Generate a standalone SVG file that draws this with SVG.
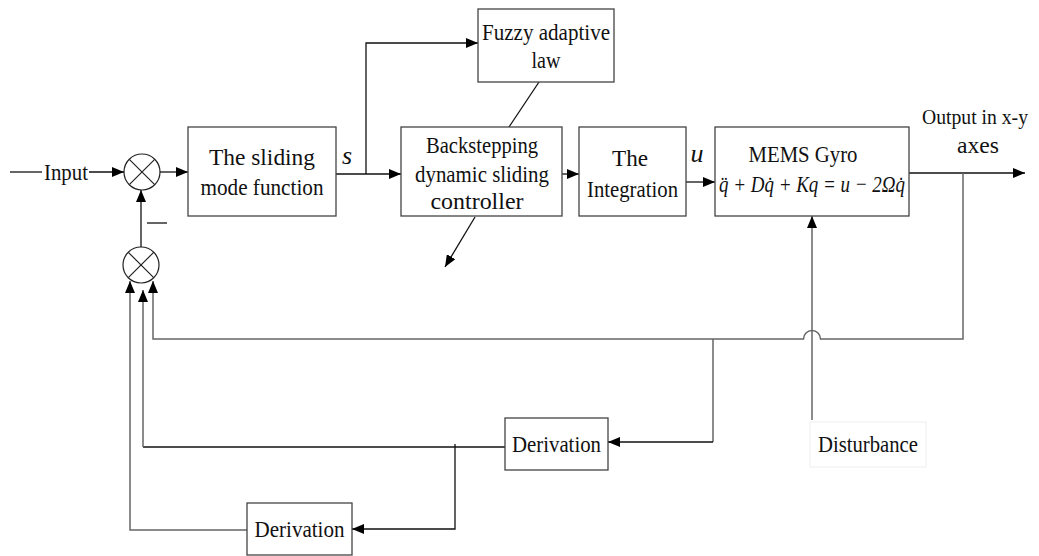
<svg xmlns="http://www.w3.org/2000/svg" width="1039" height="556" viewBox="0 0 1039 556">
<style>
.box{fill:#fff;stroke:#444;stroke-width:1.3}
.sum{fill:#fff;stroke:#222;stroke-width:1.2}
.t{font-family:"Liberation Serif","Times New Roman",serif;font-size:24px;fill:#111;text-anchor:middle}
.it{font-style:italic}
.c{fill:none;stroke:#111;stroke-width:1.3}
.g{fill:none;stroke:#666;stroke-width:1.5}
</style>
<defs>
<marker id="arr" markerWidth="12" markerHeight="10" refX="12" refY="5" orient="auto" markerUnits="userSpaceOnUse">
<path d="M0,0 L12,5 L0,10 z" fill="#000"/>
</marker>
</defs>
<rect width="1039" height="556" fill="#fff"/>

<g id="connectors">
<path class="c" d="M10,172 H42"/>
<path class="c" d="M89,172 H124" marker-end="url(#arr)"/>
<path class="c" d="M160,172 H188" marker-end="url(#arr)"/>
<path class="c" d="M141,247 V190" marker-end="url(#arr)"/>
<path class="c" d="M147,223 H167"/>
<path class="c" d="M336,174 H401" marker-end="url(#arr)"/>
<path class="c" d="M366,174 V43 H478" marker-end="url(#arr)"/>
<path class="c" d="M539,82 L509,127"/>
<path class="c" d="M475,217 L445,267" marker-end="url(#arr)"/>
<path class="c" d="M562,174 H579" marker-end="url(#arr)"/>
<path class="c" d="M686,182 H715" marker-end="url(#arr)"/>
<path class="c" d="M909,173 H1025" marker-end="url(#arr)"/>
<path class="g" d="M963,173 V339 H820.5 A8.5,8.5 0 0 0 803.5,339 H153 V281" marker-end="url(#arr)"/>
<path class="g" d="M812,420 V216" marker-end="url(#arr)"/>
<path class="g" d="M713,339 V442"/>
<path class="c" d="M713,442 H608" marker-end="url(#arr)"/>
<path class="c" d="M505,447 H143"/>
<path class="g" d="M143,447 V290" marker-end="url(#arr)"/>
<path class="c" d="M455,444 V529 H352" marker-end="url(#arr)"/>
<path class="g" d="M247,530 H130 V281" marker-end="url(#arr)"/>
</g>

<g id="input"><text class="t" x="66" y="180" textLength="44" lengthAdjust="spacingAndGlyphs">Input</text></g>

<g id="sum1">
<circle class="sum" cx="142" cy="172" r="18"/>
<path class="sum" d="M129.3,159.3 L154.7,184.7 M154.7,159.3 L129.3,184.7"/>
</g>
<g id="sum2">
<circle class="sum" cx="141" cy="265" r="18"/>
<path class="sum" d="M128.3,252.3 L153.7,277.7 M153.7,252.3 L128.3,277.7"/>
</g>

<g id="sliding">
<rect class="box" x="188" y="127" width="148" height="89"/>
<text class="t" x="262" y="165" textLength="106" lengthAdjust="spacingAndGlyphs">The sliding</text>
<text class="t" x="262" y="195" textLength="123" lengthAdjust="spacingAndGlyphs">mode function</text>
</g>
<g id="s-label"><text class="t it" x="347" y="164" style="font-size:26px">s</text></g>

<g id="fuzzy">
<rect class="box" x="478" y="9" width="136" height="73"/>
<text class="t" x="546" y="40" textLength="128" lengthAdjust="spacingAndGlyphs">Fuzzy adaptive</text>
<text class="t" x="546" y="68" textLength="29" lengthAdjust="spacingAndGlyphs">law</text>
</g>

<g id="backstepping">
<rect class="box" x="401" y="127" width="161" height="89"/>
<text class="t" x="482" y="153" textLength="112" lengthAdjust="spacingAndGlyphs">Backstepping</text>
<text class="t" x="482" y="182" textLength="134" lengthAdjust="spacingAndGlyphs">dynamic sliding</text>
<text class="t" x="477" y="209" textLength="93" lengthAdjust="spacingAndGlyphs">controller</text>
</g>

<g id="integration">
<rect class="box" x="579" y="127" width="107" height="89"/>
<text class="t" x="630" y="166" textLength="36" lengthAdjust="spacingAndGlyphs">The</text>
<text class="t" x="632.5" y="197" textLength="91" lengthAdjust="spacingAndGlyphs">Integration</text>
</g>
<g id="u-label"><text class="t it" x="697" y="162" style="font-size:26px">u</text></g>

<g id="mems">
<rect class="box" x="715" y="127" width="194" height="89"/>
<text class="t" x="803" y="162" textLength="109" lengthAdjust="spacingAndGlyphs">MEMS Gyro</text>
<text class="t it" x="812" y="192" textLength="186" lengthAdjust="spacingAndGlyphs">q̈ + Dq̇ + Kq = u − 2Ωq̇</text>
</g>

<g id="output">
<text class="t" x="975" y="124" style="font-size:21px" textLength="106" lengthAdjust="spacingAndGlyphs">Output in x-y</text>
<text class="t" x="978" y="153" textLength="42" lengthAdjust="spacingAndGlyphs">axes</text>
</g>

<g id="disturbance">
<rect x="810" y="422" width="116" height="45" fill="#fff" stroke="#eee" stroke-width="1"/>
<text class="t" x="868" y="452" textLength="100" lengthAdjust="spacingAndGlyphs">Disturbance</text>
</g>

<g id="derivation1">
<rect class="box" x="505" y="418" width="103" height="52"/>
<text class="t" x="556.5" y="452" textLength="89" lengthAdjust="spacingAndGlyphs">Derivation</text>
</g>

<g id="derivation2">
<rect class="box" x="247" y="503" width="105" height="52"/>
<text class="t" x="299.5" y="537" textLength="90" lengthAdjust="spacingAndGlyphs">Derivation</text>
</g>
</svg>
